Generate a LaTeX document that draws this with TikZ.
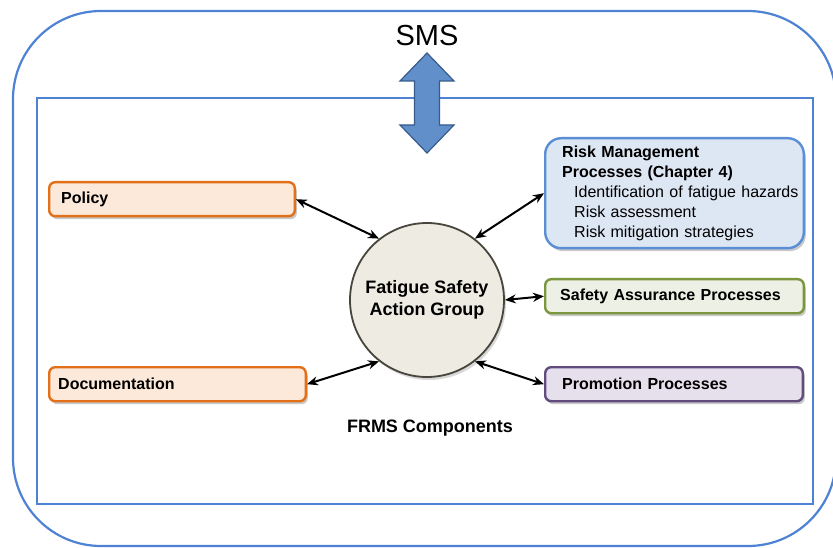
\documentclass[tikz,border=0pt]{standalone}
\usepackage{fontspec}
\setmainfont{Liberation Sans}
\usetikzlibrary{shadows,arrows.meta}

\definecolor{frameblue}{RGB}{78,130,212}
\definecolor{arrowfill}{RGB}{96,143,202}
\definecolor{arrowline}{RGB}{55,92,140}
\definecolor{orangeline}{RGB}{226,112,24}
\definecolor{orangefill}{RGB}{253,233,217}
\definecolor{blueline}{RGB}{90,143,214}
\definecolor{bluefill}{RGB}{221,230,243}
\definecolor{greenline}{RGB}{122,150,62}
\definecolor{greenfill}{RGB}{237,240,228}
\definecolor{purpleline}{RGB}{98,76,126}
\definecolor{purplefill}{RGB}{230,224,237}
\definecolor{circfill}{RGB}{238,236,226}
\definecolor{circline}{RGB}{72,70,60}

\tikzset{
  frame/.style={draw=frameblue, line width=2.2pt},
  % #1 = outer width, #2 = left/right padding
  compbox/.style 2 args={rounded corners=6pt, line width=2.4pt, minimum height=34pt,
    inner xsep=#2, text width=#1-2*#2-2.4pt, align=left, anchor=north west,
    font=\fontsize{16}{18}\selectfont\bfseries,
    drop shadow={shadow xshift=2pt, shadow yshift=-3pt, opacity=0.35, fill=black!60}},
  link/.style={{Stealth[length=11pt,width=9pt]}-{Stealth[length=11pt,width=9pt]}, line width=2pt, black},
}

\begin{document}
\begin{tikzpicture}[x=1pt, y=-1pt]
\useasboundingbox (0,0) rectangle (833,548);
\fill[white] (0,0) rectangle (833,548);

% SMS boundary and FRMS frame
\draw[frame, rounded corners=88pt] (13,11) rectangle (836,546);
\draw[frame] (37,98) rectangle (813,504);
\node[font=\fontsize{29}{32}\selectfont] (sms) at (427,36) {SMS};

% two-way link between SMS and FRMS
\draw[arrowline, fill=arrowfill, line width=1.2pt, line join=miter]
  (427,53) -- (454,81) -- (439.5,81) -- (439.5,125) -- (454,125) -- (427,153)
  -- (400,125) -- (414.5,125) -- (414.5,81) -- (400,81) -- cycle;

% components
\node[compbox={248pt}{12pt}, draw=orangeline, fill=orangefill] (policy) at (48,181) {Policy};
\node[compbox={259pt}{9pt}, draw=orangeline, fill=orangefill] (doc) at (48,366) {Documentation};
\node[compbox={261pt}{17pt}, draw=blueline, fill=bluefill, rounded corners=16pt, minimum height=110pt,
      inner ysep=5pt, font=\fontsize{16}{20}\selectfont] (risk) at (544,137)
  {\textbf{Risk Management}\\\textbf{Processes (Chapter 4)}\\
   \mbox{\hspace*{12pt}Identification of fatigue hazards}\\
   \mbox{\hspace*{12pt}Risk assessment}\\
   \mbox{\hspace*{12pt}Risk mitigation strategies}};
\node[compbox={261pt}{15pt}, draw=greenline, fill=greenfill] (safety) at (544,278) {Safety Assurance Processes};
\node[compbox={260pt}{17pt}, draw=purpleline, fill=purplefill] (promo) at (544,366) {Promotion Processes};

% central group
\node[circle, minimum size=154pt, draw=circline, fill=circfill, line width=1.8pt,
      align=center, font=\fontsize{18}{22}\selectfont\bfseries,
      drop shadow={shadow xshift=2pt, shadow yshift=-3pt, opacity=0.25, fill=black!60}]
  (fsag) at (427,300) {Fatigue Safety\\Action Group};

\node[font=\fontsize{18}{20}\selectfont\bfseries] (frms) at (430,428) {FRMS Components};

% links
\draw[link] (policy.east) -- (fsag.128);
\draw[link] (doc.east) -- (fsag.232);
\draw[link] (risk.west) -- (fsag.52);
\draw[link] (safety.west) -- (fsag.east);
\draw[link] (promo.west) -- (fsag.308);
\end{tikzpicture}
\end{document}
